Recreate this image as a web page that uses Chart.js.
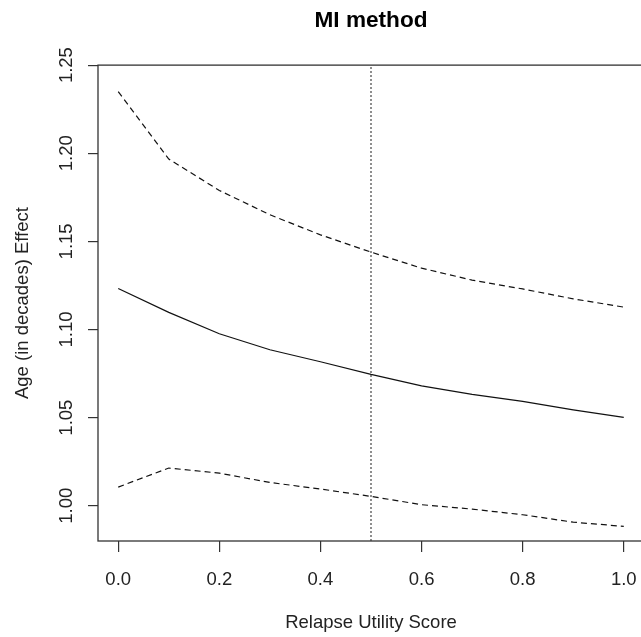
<!DOCTYPE html>
<html>
<head>
<meta charset="utf-8">
<script src="https://cdn.jsdelivr.net/npm/chart.js@4/dist/chart.umd.min.js"></script>
<style>
  html, body { margin: 0; padding: 0; overflow: hidden; background: #fff; }
  #wrap { width: 641px; height: 637px; overflow: hidden; position: relative; }
  canvas { display: block; }
</style>
</head>
<body>
<div id="wrap"><canvas id="c" width="650" height="637"></canvas></div>
<script>
// ---- data ----
const relapseScore = [0.0, 0.1, 0.2, 0.3, 0.4, 0.5, 0.6, 0.7, 0.8, 0.9, 1.0];
const effectEstimate = [1.1233, 1.1097, 1.0976, 1.0885, 1.0817, 1.0745, 1.0680, 1.0632, 1.0592, 1.0544, 1.0501];
const upperBound = [1.2350, 1.1967, 1.1789, 1.1651, 1.1537, 1.1439, 1.1348, 1.1280, 1.1230, 1.1174, 1.1127];
const lowerBound = [1.0106, 1.0214, 1.0185, 1.0132, 1.0095, 1.0053, 1.0006, 0.9981, 0.9949, 0.9907, 0.9883];
const referenceLineX = 0.5;
const xTickValues = [0.0, 0.2, 0.4, 0.6, 0.8, 1.0];
const yTickValues = [1.00, 1.05, 1.10, 1.15, 1.20, 1.25];
const xRange = [-0.04, 1.04];
const yRange = [0.98, 1.25];
const chartTitle = 'MI method';
const xTitle = 'Relapse Utility Score';
const yTitle = 'Age (in decades) Effect';

const FONT = "'Liberation Sans', Arial, sans-serif";
const toPoints = (ys) => relapseScore.map((x, i) => ({ x: x, y: ys[i] }));

const boxPlugin = {
  id: 'boxPlugin',
  afterDraw(chart) {
    const a = chart.chartArea;
    const ctx = chart.ctx;
    ctx.save();
    ctx.strokeStyle = '#333';
    ctx.lineWidth = 1.3;
    ctx.strokeRect(a.left, a.top, a.right - a.left, a.bottom - a.top);
    ctx.restore();
  }
};

new Chart(document.getElementById('c'), {
  type: 'line',
  data: {
    datasets: [
      { label: 'estimate', data: toPoints(effectEstimate), borderColor: '#111', borderWidth: 1.2, pointRadius: 0, tension: 0, fill: false },
      { label: 'upper', data: toPoints(upperBound), borderColor: '#111', borderWidth: 1.2, borderDash: [6, 4], pointRadius: 0, tension: 0, fill: false },
      { label: 'lower', data: toPoints(lowerBound), borderColor: '#111', borderWidth: 1.2, borderDash: [6, 4], pointRadius: 0, tension: 0, fill: false },
      { label: 'reference', data: [{ x: referenceLineX, y: yRange[0] }, { x: referenceLineX, y: yRange[1] }], borderColor: '#444', borderWidth: 1.2, borderDash: [2, 2], pointRadius: 0, fill: false }
    ]
  },
  options: {
    responsive: false,
    devicePixelRatio: 1,
    animation: false,
    layout: { padding: { left: 0, right: 6, top: 0, bottom: 0 } },
    plugins: {
      legend: { display: false },
      tooltip: { enabled: false },
      title: {
        display: true, text: chartTitle, fullSize: false, color: '#000',
        font: { family: FONT, size: 22.6, weight: 'bold' },
        padding: { top: 7, bottom: 31 }
      }
    },
    scales: {
      x: {
        type: 'linear', min: xRange[0], max: xRange[1],
        afterBuildTicks: (s) => { s.ticks = xTickValues.map(v => ({ value: v })); },
        afterFit: (s) => { s.height = 96; s.paddingLeft = 0; s.paddingRight = 0; },
        ticks: { callback: (v) => Number(v).toFixed(1), color: '#222', font: { family: FONT, size: 18.5 }, padding: 17, maxRotation: 0, minRotation: 0 },
        grid: { display: true, drawOnChartArea: false, drawTicks: true, tickLength: 11, color: '#333', tickColor: '#333', lineWidth: 1.2 },
        border: { display: false },
        title: { display: true, text: xTitle, color: '#222', font: { family: FONT, size: 18.5 }, padding: { top: 0, bottom: 3 } }
      },
      y: {
        type: 'linear', min: yRange[0], max: yRange[1],
        afterBuildTicks: (s) => { s.ticks = yTickValues.map(v => ({ value: v })); },
        afterFit: (s) => { s.width = 98; },
        ticks: { callback: (v) => Number(v).toFixed(2), color: '#222', font: { family: FONT, size: 18.5 }, padding: 3, minRotation: 90, maxRotation: 90, crossAlign: 'center' },
        grid: { display: true, drawOnChartArea: false, drawTicks: true, tickLength: 10, color: '#333', tickColor: '#333', lineWidth: 1.2 },
        border: { display: false },
        title: { display: true, text: yTitle, color: '#222', font: { family: FONT, size: 18.5 }, padding: { top: 12, bottom: 0 } }
      }
    }
  },
  plugins: [boxPlugin]
});
</script>
</body>
</html>
